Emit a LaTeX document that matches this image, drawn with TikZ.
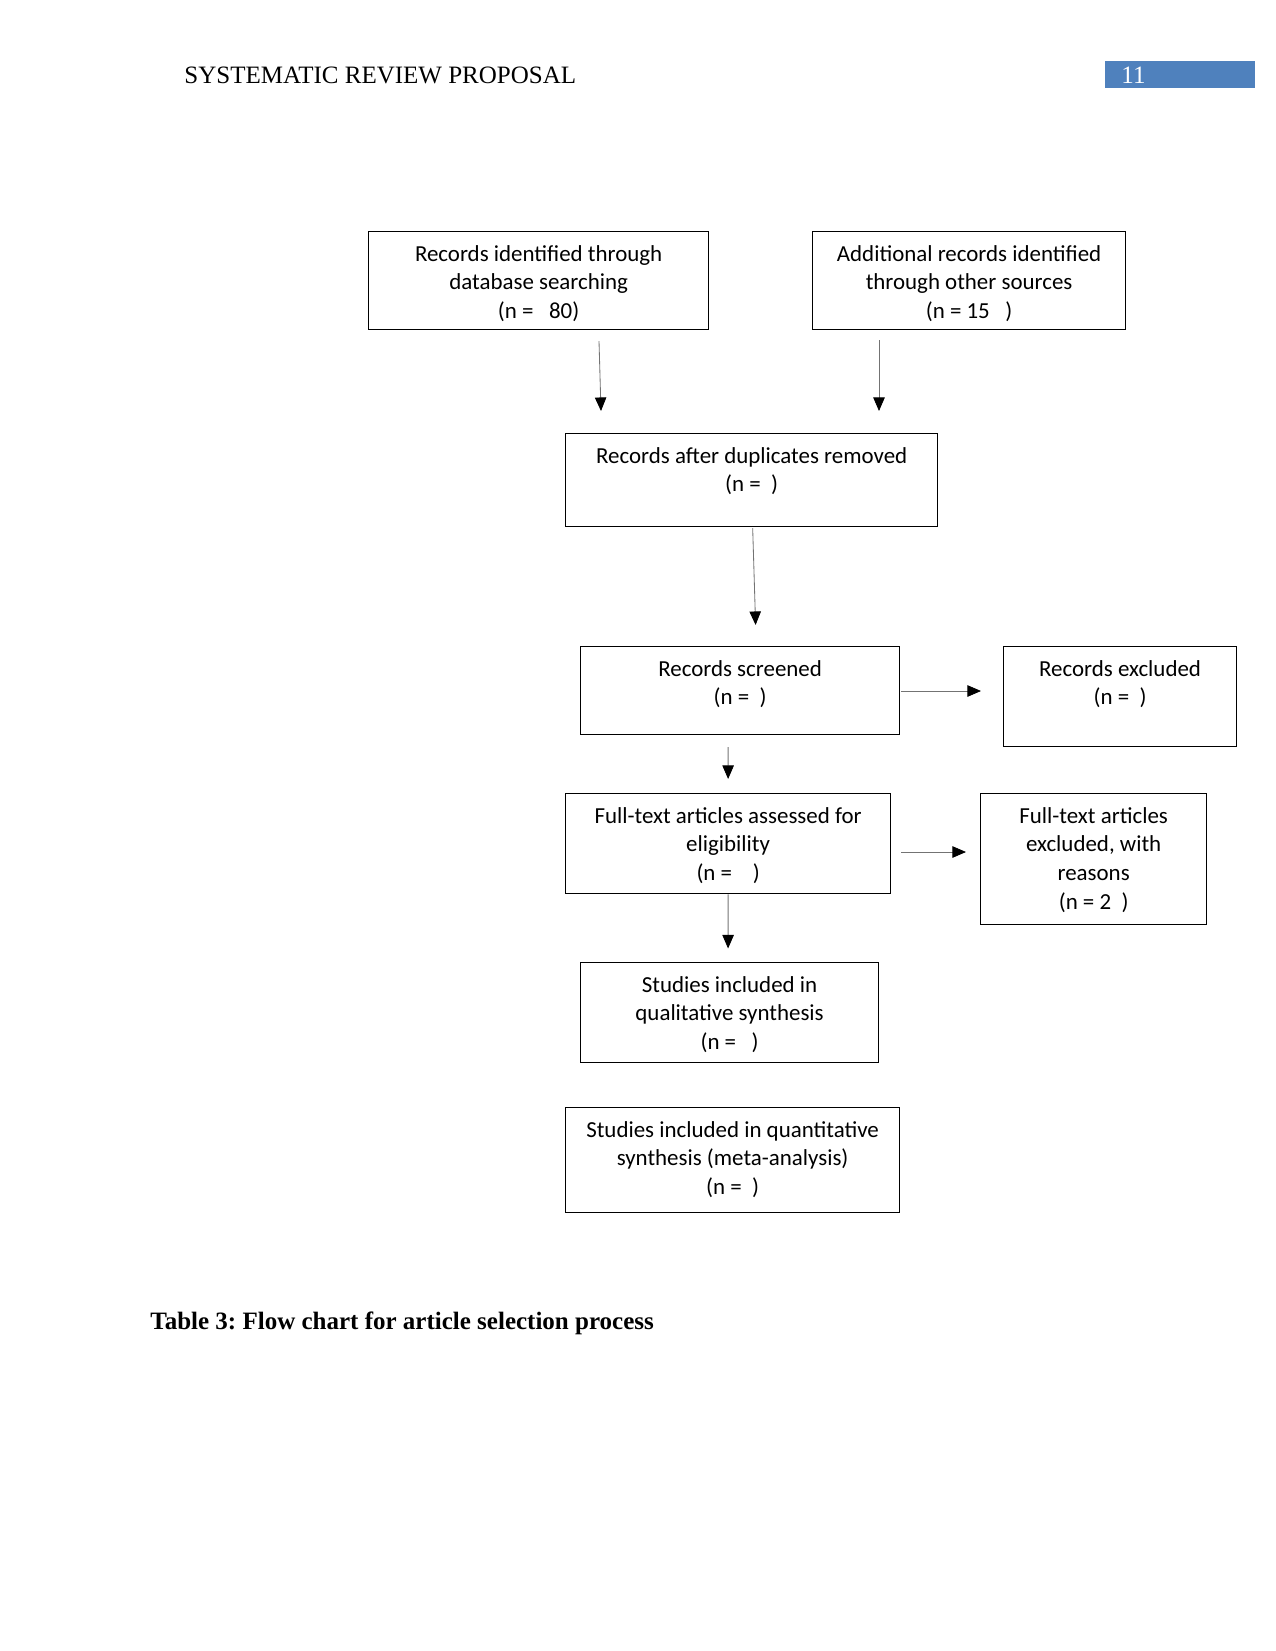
\documentclass[tikz,border=0pt]{standalone}
\usepackage{fontspec}
\setmainfont{Liberation Serif}
\newfontfamily\boxfont{Carlito}
\usetikzlibrary{arrows.meta,calc}
\definecolor{hdrblue}{HTML}{4F81BD}
\frenchspacing
\begin{document}
\begin{tikzpicture}[x=0.48pt,y=-0.48pt,
  box/.style={draw=black, line width=0.6pt, rectangle, anchor=north west, inner sep=0pt},
  txt/.style={anchor=north, align=center, inner sep=0pt, yshift=-6.6pt,
    font=\boxfont\fontsize{11}{13.75}\selectfont},
  arr/.style={draw=black!55, line width=0.4pt, -{Triangle[length=6.5pt,width=5.5pt,black]}}]
\useasboundingbox (0,0) rectangle (1275,1651);

% header
\node[anchor=base west, inner sep=0pt, font=\fontsize{12}{14}\selectfont] (hdr) at (184,84) {SYSTEMATIC REVIEW PROPOSAL};
\node[fill=hdrblue, anchor=north west, inner sep=0pt, minimum width=72pt, minimum height=13pt] (pg) at (1105,61) {};
\node[anchor=base west, inner sep=0pt, text=white, font=\fontsize{12}{14}\selectfont] (pgn) at (1121,84) {11};

% boxes
\node[box, minimum width=163.2pt, minimum height=47pt] (b1) at (368,231) {};
\node[txt] (t1) at (b1.north) {Records identified through\\database searching\\(n =\ \ \ 80)};
\node[box, minimum width=150.2pt, minimum height=47pt] (b2) at (812,231) {};
\node[txt] (t2) at (b2.north) {Additional records identified\\through other sources\\(n = 15\ \ \ )};
\node[box, minimum width=178.6pt, minimum height=44.6pt] (b3) at (565,433) {};
\node[txt] (t3) at (b3.north) {Records after duplicates removed\\(n =\ \ )};
\node[box, minimum width=153.1pt, minimum height=42.2pt] (b4) at (580,646) {};
\node[txt] (t4) at (b4.north) {Records screened\\(n =\ \ )};
\node[box, minimum width=111.8pt, minimum height=48pt] (b5) at (1003,646) {};
\node[txt] (t5) at (b5.north) {Records excluded\\(n =\ \ )};
\node[box, minimum width=156pt, minimum height=48pt] (b6) at (565,793) {};
\node[txt] (t6) at (b6.north) {Full-text articles assessed for\\eligibility\\(n =\ \ \ \ )};
\node[box, minimum width=108.5pt, minimum height=62.9pt] (b7) at (980,793) {};
\node[txt] (t7) at (b7.north) {Full-text articles\\excluded, with\\reasons\\(n = 2\ \ )};
\node[box, minimum width=143pt, minimum height=48pt] (b8) at (580,962) {};
\node[txt] (t8) at (b8.north) {Studies included in\\qualitative synthesis\\(n =\ \ \ )};
\node[box, minimum width=160.3pt, minimum height=50.4pt] (b9) at (565,1107) {};
\node[txt] (t9) at (b9.north) {Studies included in quantitative\\synthesis (meta-analysis)\\(n =\ \ )};

% caption
\node[anchor=base west, inner sep=0pt, font=\bfseries\fontsize{12}{14}\selectfont] (cap) at (150,1329) {Table 3: Flow chart for article selection process};

% connectors
\draw[arr] ($(b1.south west)+(231,11)$) -- ($(b3.north west)+(36,-22)$);
\draw[arr] ($(b2.south west)+(67,10)$) -- ($(b3.north west)+(314,-22)$);
\draw[arr] ($(b3.south)+(1,1)$) -- ($(b4.north)+(15.5,-21)$);
\draw[arr] ($(b4.north east)+(1,45)$) -- ($(b5.north west)+(-22,45)$);
\draw[arr] ($(b4.south)+(-12,12)$) -- ($(b6.north)+(0,-14)$);
\draw[arr] ($(b6.north east)+(10,59)$) -- ($(b7.north west)+(-14,59)$);
\draw[arr] (b6.south) -- ($(b8.north)+(-1.5,-13.5)$);
\end{tikzpicture}
\end{document}
